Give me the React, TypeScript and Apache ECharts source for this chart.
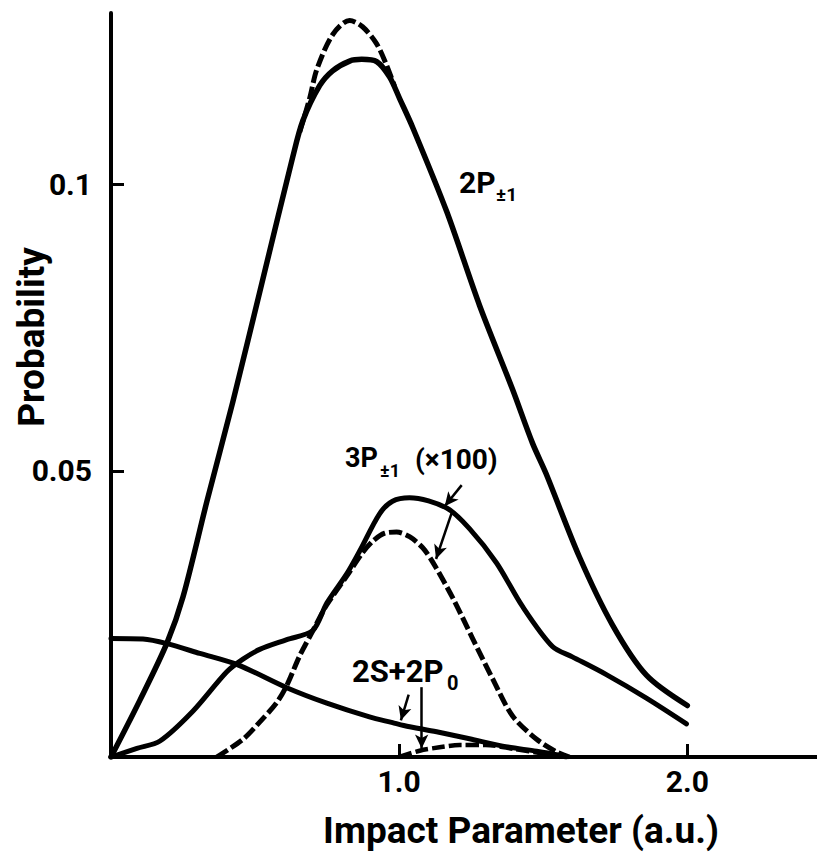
import React, { useEffect, useRef } from 'react';
import * as echarts from 'echarts';

// Impact parameter (a.u.) and probability
const b2P = [0, 0.10, 0.194, 0.25, 0.333, 0.423, 0.527, 0.631, 0.666, 0.724, 0.769, 0.828, 0.870, 0.922, 0.967, 1.002, 1.047, 1.165, 1.279, 1.393, 1.463, 1.51, 1.626, 1.74, 1.858, 2.0];
const p2P = [0, 0.0099, 0.0199, 0.0280, 0.0447, 0.0621, 0.0835, 0.1049, 0.1112, 0.1173, 0.1199, 0.1216, 0.1219, 0.1215, 0.1188, 0.1150, 0.1100, 0.0953, 0.0789, 0.0643, 0.0548, 0.0495, 0.0349, 0.0231, 0.0143, 0.0090];

const b2Pdash = [0.655, 0.690, 0.714, 0.769, 0.828, 0.873, 0.922, 0.957, 0.984];
const p2Pdash = [0.1092, 0.1152, 0.1201, 0.1262, 0.1287, 0.1276, 0.1246, 0.1208, 0.1172];

const b3P = [0, 0.09, 0.17, 0.284, 0.402, 0.458, 0.516, 0.610, 0.700, 0.749, 0.818, 0.863, 0.932, 0.977, 1.036, 1.165, 1.244, 1.338, 1.428, 1.532, 1.601, 1.719, 1.858, 1.997];
const p3P = [0, 0.0015, 0.0028, 0.0080, 0.0149, 0.0171, 0.0188, 0.0205, 0.0221, 0.0269, 0.0320, 0.0360, 0.0425, 0.0447, 0.0453, 0.0435, 0.0399, 0.0339, 0.0263, 0.0193, 0.0175, 0.0144, 0.0103, 0.0058];

const b3Pdash = [0.367, 0.458, 0.516, 0.575, 0.610, 0.655, 0.700, 0.749, 0.818, 0.870, 0.908, 0.950, 0.991, 1.036, 1.081, 1.116, 1.186, 1.255, 1.324, 1.393, 1.477, 1.546, 1.591];
const p3Pdash = [0, 0.0031, 0.0061, 0.0095, 0.0125, 0.0177, 0.0220, 0.0266, 0.0316, 0.0355, 0.0377, 0.0391, 0.0393, 0.0385, 0.0366, 0.0341, 0.0278, 0.0207, 0.0137, 0.0072, 0.0031, 0.0009, 0];

const b2S = [0, 0.111, 0.194, 0.308, 0.44, 0.61, 0.749, 0.897, 0.977, 1.016, 1.13, 1.244, 1.359, 1.477, 1.546, 1.58];
const p2S = [0.0207, 0.0206, 0.0198, 0.0181, 0.0161, 0.0121, 0.0094, 0.0070, 0.0060, 0.0055, 0.0044, 0.0032, 0.0019, 0.0010, 0.0004, 0];

const b2Sdash = [1.0, 1.071, 1.14, 1.21, 1.30, 1.40, 1.50, 1.56];
const p2Sdash = [0, 0.0011, 0.0017, 0.0021, 0.0021, 0.0014, 0.0006, 0];

const xTicks = [1.0, 2.0];
const yTicks = [0.05, 0.1];

// annotation arrows: [from, to] in data units
const arrows = [
  [[1.217, 0.0475], [1.158, 0.0438]],
  [[1.182, 0.0426], [1.128, 0.0346]],
  [[1.033, 0.0109], [1.006, 0.0064]],
  [[1.078, 0.0122], [1.078, 0.0015]],
];

const pairs = (xs: number[], ys: number[]) => xs.map((x, i) => [x, ys[i]]);

export default function App() {
  const ref = useRef<HTMLDivElement>(null);
  useEffect(() => {
    const chart = echarts.init(ref.current!, null, { renderer: 'svg' });
    const font = 'Roboto, "Liberation Sans", sans-serif';
    const line = (name: string, data: number[][], width: number, dashed: boolean, extra: any = {}) => ({
      type: 'line',
      name,
      data,
      symbol: 'none',
      showSymbol: false,
      smooth: 0.3,
      silent: true,
      lineStyle: { color: '#000', width, type: dashed ? [13, 4] : 'solid', cap: dashed ? 'butt' : 'round', join: 'round' },
      z: 3,
      ...extra,
    });
    const txt = (text: string, x: number, y: number, size: number, extra: any = {}) => ({
      type: 'text',
      x,
      y,
      silent: true,
      ...extra,
      style: { text, fill: '#000', fontSize: size, fontWeight: 'bold', fontFamily: font, align: 'left', verticalAlign: 'middle', ...(extra.style || {}) },
    });
    chart.setOption({
      animation: false,
      backgroundColor: '#fff',
      grid: { left: 111, right: 0, top: 13, bottom: 100, containLabel: false, outerBoundsMode: 'none' },
      xAxis: {
        type: 'value',
        min: 0,
        max: 2.45,
        splitLine: { show: false },
        axisLine: { show: true, lineStyle: { color: '#000', width: 4 } },
        axisTick: { show: true, inside: true, length: 13, customValues: xTicks, lineStyle: { color: '#000', width: 3 } },
        axisLabel: { customValues: xTicks, formatter: (v: number) => v.toFixed(1), fontSize: 30, fontWeight: 'bold', color: '#000', fontFamily: font, margin: 9 },
      },
      yAxis: {
        type: 'value',
        min: 0,
        max: 0.13,
        splitLine: { show: false },
        axisLine: { show: true, lineStyle: { color: '#000', width: 4 } },
        axisTick: { show: true, inside: true, length: 13, customValues: yTicks, lineStyle: { color: '#000', width: 3 } },
        axisLabel: { customValues: yTicks, fontSize: 30, fontWeight: 'bold', color: '#000', fontFamily: font, margin: 19 },
      },
      series: [
        line('2P±1', pairs(b2P, p2P), 5.5, false),
        line('2P±1 dashed', pairs(b2Pdash, p2Pdash), 5, true),
        line('3P±1 (×100)', pairs(b3P, p3P), 5, false),
        line('3P±1 (×100) dashed', pairs(b3Pdash, p3Pdash), 5, true),
        line('2S+2P0', pairs(b2S, p2S), 5, false, {
          markLine: {
            silent: true,
            symbol: ['none', 'arrow'],
            symbolSize: [10, 14],
            label: { show: false },
            lineStyle: { color: '#000', width: 2.5, type: 'solid' },
            data: arrows.map(([a, b]) => [{ coord: a }, { coord: b }]),
          },
        }),
        line('2S+2P0 dashed', pairs(b2Sdash, p2Sdash), 4.5, true),
      ],
      graphic: [
        txt('Impact Parameter (a.u.)', 521, 830, 37, { style: { align: 'center' } }),
        txt('Probability', 31, 337, 37, { rotation: Math.PI / 2, style: { align: 'center' } }),
        txt('2P', 459, 182, 30),
        txt('±1', 496, 194, 19),
        txt('3P', 345, 458, 27),
        txt('±1', 380, 470, 18),
        txt('(×100)', 415, 459, 28),
        txt('2S+2P', 352, 671, 31),
        txt('0', 447, 683, 20),
      ],
    });
    return () => chart.dispose();
  }, []);
  return <div ref={ref} style={{ position: 'absolute', left: 0, top: 0, width: 817, height: 857 }} />;
}
